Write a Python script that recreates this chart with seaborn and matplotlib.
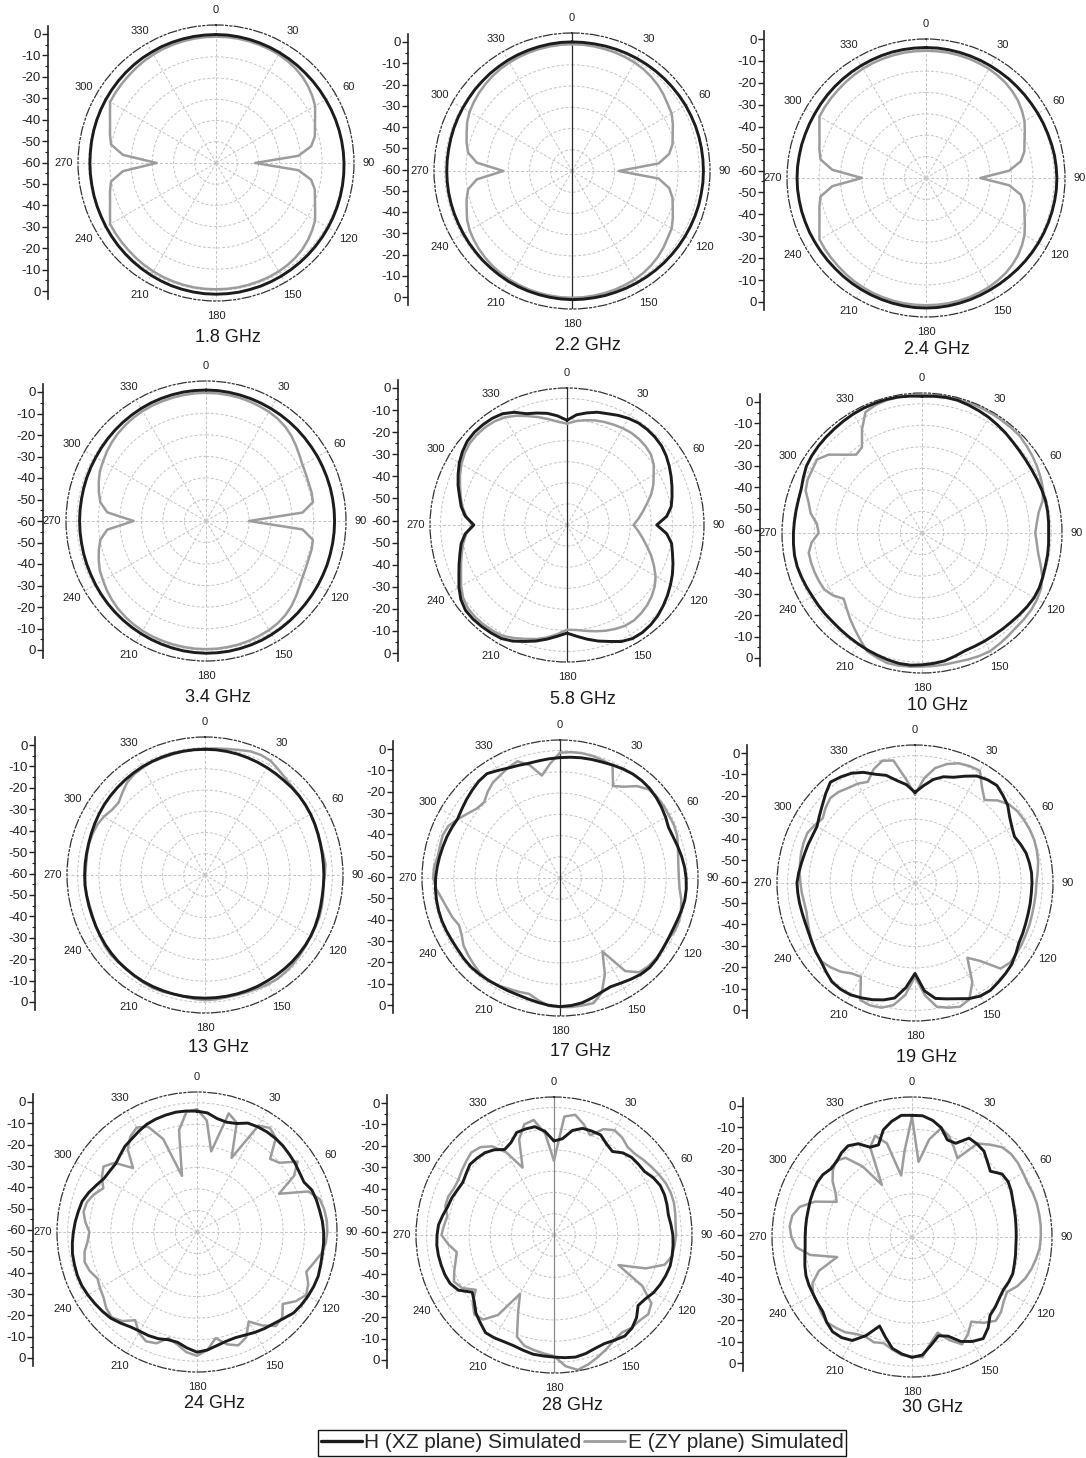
import numpy as np
import pandas as pd
import matplotlib
matplotlib.use("Agg")
import matplotlib.pyplot as plt
from matplotlib.lines import Line2D
from matplotlib.ticker import MultipleLocator
import seaborn as sns

sns.set_theme(style="white")
plt.rcParams["font.family"] = ["Liberation Sans", "DejaVu Sans"]

# Azimuth samples (degrees, clockwise from the top)
ANGLES = list(range(0, 360, 5))

# Normalised gain (dB), one value per 5 degrees
H_1_8 = [0.5, 0.5, 0.4, 0.3, 0.2, 0.1, 0.0, -0.1, -0.2, -0.3, -0.3, -0.3,
         -0.3, -0.2, -0.1, 0.0, 0.1, 0.2, 0.3, 0.4, 0.5, 0.6, 0.7, 0.8,
         0.9, 1.0, 1.1, 1.2, 1.3, 1.4, 1.5, 1.6, 1.7, 1.7, 1.8, 1.8,
         1.8, 1.8, 1.7, 1.6, 1.5, 1.3, 1.1, 0.9, 0.7, 0.5, 0.3, 0.1,
         -0.1, -0.3, -0.4, -0.5, -0.6, -0.6, -0.6, -0.6, -0.5, -0.4, -0.3, -0.2,
         -0.1, 0.0, 0.1, 0.2, 0.3, 0.4, 0.4, 0.5, 0.5, 0.5, 0.5, 0.5]
E_1_8 = [-0.5, -0.5, -0.5, -0.6, -0.7, -0.8, -1.0, -1.3, -1.8, -2.5, -3.5, -4.7,
         -6.1, -8.5, -10.4, -11.8, -14.5, -21.0, -41.6, -21.0, -14.5, -11.8, -10.4, -8.5,
         -6.1, -4.7, -3.5, -2.5, -1.8, -1.3, -1.0, -0.8, -0.7, -0.6, -0.5, -0.5,
         -0.5, -0.5, -0.5, -0.6, -0.7, -0.8, -1.0, -1.2, -1.5, -1.8, -2.0, -2.2,
         -2.4, -4.9, -6.9, -8.3, -9.8, -16.0, -32.0, -16.0, -9.8, -8.3, -6.9, -4.9,
         -2.4, -2.2, -2.0, -1.8, -1.5, -1.2, -1.0, -0.8, -0.7, -0.6, -0.5, -0.5]

H_2_2 = [0.8, 0.8, 0.8, 0.9, 1.0, 1.1, 1.2, 1.3, 1.4, 1.5, 1.6, 1.7,
         1.8, 1.8, 1.9, 1.9, 1.9, 1.9, 1.9, 1.9, 1.8, 1.8, 1.7, 1.6,
         1.5, 1.4, 1.3, 1.2, 1.1, 1.0, 0.9, 0.8, 0.7, 0.7, 0.6, 0.6,
         0.6, 0.5, 0.4, 0.3, 0.2, 0.1, 0.0, -0.2, -0.4, -0.5, -0.7, -0.8,
         -0.9, -1.0, -1.0, -1.0, -1.0, -1.0, -1.0, -1.0, -1.0, -0.9, -0.8, -0.7,
         -0.6, -0.5, -0.3, -0.2, 0.0, 0.1, 0.3, 0.4, 0.5, 0.6, 0.7, 0.8]
E_2_2 = [-0.3, -0.3, -0.4, -0.5, -0.6, -0.8, -1.0, -1.4, -2.0, -2.8, -3.8, -5.0,
         -5.8, -7.6, -9.5, -11.0, -13.5, -19.0, -38.0, -19.0, -13.5, -11.0, -9.5, -7.6,
         -5.8, -5.0, -3.8, -2.8, -2.0, -1.4, -1.0, -0.8, -0.6, -0.5, -0.4, -0.3,
         -0.3, -0.3, -0.4, -0.5, -0.6, -0.8, -1.0, -1.3, -1.7, -2.2, -2.8, -3.5,
         -4.3, -5.5, -7.2, -8.6, -10.3, -15.0, -27.7, -15.0, -10.3, -8.6, -7.2, -5.5,
         -4.3, -3.5, -2.8, -2.2, -1.7, -1.3, -1.0, -0.8, -0.6, -0.5, -0.4, -0.3]

H_2_4 = [1.0, 1.0, 0.9, 0.8, 0.7, 0.6, 0.5, 0.4, 0.4, 0.3, 0.3, 0.3,
         0.4, 0.5, 0.6, 0.8, 1.0, 1.1, 1.2, 1.2, 1.1, 1.0, 0.9, 0.8,
         0.7, 0.6, 0.5, 0.4, 0.3, 0.3, 0.3, 0.4, 0.5, 0.6, 0.7, 0.8,
         0.8, 0.8, 0.7, 0.6, 0.5, 0.4, 0.3, 0.2, 0.1, 0.0, 0.0, 0.0,
         0.0, 0.1, 0.1, 0.2, 0.2, 0.3, 0.3, 0.3, 0.2, 0.2, 0.1, 0.1,
         0.1, 0.2, 0.3, 0.4, 0.5, 0.6, 0.7, 0.8, 0.9, 1.0, 1.0, 1.0]
E_2_4 = [-0.5, -0.5, -0.5, -0.6, -0.7, -0.9, -1.1, -1.5, -2.0, -2.8, -3.8, -5.2,
         -6.8, -9.0, -11.0, -12.4, -15.0, -21.0, -34.6, -21.0, -15.0, -12.4, -11.0, -9.0,
         -6.8, -5.2, -3.8, -2.8, -2.0, -1.5, -1.1, -0.9, -0.7, -0.6, -0.5, -0.5,
         -0.5, -0.5, -0.5, -0.6, -0.7, -0.8, -1.0, -1.2, -1.5, -1.8, -2.0, -2.2,
         -2.5, -5.0, -7.0, -8.4, -9.9, -16.0, -30.0, -16.0, -9.9, -8.4, -7.0, -5.0,
         -2.5, -2.2, -2.0, -1.8, -1.5, -1.2, -1.0, -0.8, -0.7, -0.6, -0.5, -0.5]

H_3_4 = [0.8, 0.8, 0.7, 0.6, 0.5, 0.4, 0.3, 0.2, 0.1, 0.0, -0.1, -0.2,
         -0.2, -0.3, -0.3, -0.3, -0.3, -0.3, -0.3, -0.3, -0.3, -0.3, -0.2, -0.2,
         -0.1, 0.0, 0.1, 0.3, 0.5, 0.7, 0.9, 1.1, 1.2, 1.3, 1.4, 1.4,
         1.4, 1.3, 1.2, 1.0, 0.8, 0.6, 0.4, 0.2, 0.0, -0.2, -0.4, -0.6,
         -0.8, -1.0, -1.1, -1.2, -1.3, -1.3, -1.3, -1.3, -1.3, -1.2, -1.1, -1.0,
         -0.9, -0.7, -0.5, -0.3, -0.1, 0.1, 0.3, 0.5, 0.6, 0.7, 0.8, 0.8]
E_3_4 = [-0.5, -0.5, -0.6, -0.7, -0.9, -1.2, -1.5, -2.0, -2.8, -4.0, -5.5, -7.0,
         -8.2, -8.8, -9.2, -9.2, -9.6, -15.0, -40.0, -15.0, -9.6, -9.2, -9.2, -8.8,
         -8.2, -7.0, -5.5, -4.0, -2.8, -2.0, -1.5, -1.2, -0.9, -0.7, -0.6, -0.5,
         -0.5, -0.5, -0.6, -0.7, -0.8, -0.9, -1.1, -1.4, -1.8, -2.3, -3.0, -3.8,
         -4.8, -5.6, -7.0, -8.5, -10.2, -14.0, -26.4, -14.0, -10.2, -8.5, -7.0, -5.6,
         -4.8, -3.8, -3.0, -2.3, -1.8, -1.4, -1.1, -0.9, -0.8, -0.7, -0.6, -0.5]

H_5_8 = [-10.3, -7.5, -6.0, -4.6, -3.8, -2.6, -1.6, -0.9, -0.8, -1.0, -1.5, -2.6,
         -4.0, -5.5, -7.0, -8.4, -9.8, -12.5, -17.4, -12.5, -9.6, -8.2, -6.5, -4.8,
         -3.3, -1.8, -0.4, 0.9, 1.8, 2.3, 2.2, 1.0, -1.2, -3.0, -5.0, -7.0,
         -8.7, -7.0, -5.0, -3.0, -1.2, 0.8, 2.2, 2.6, 2.9, 3.1, 2.9, 1.5,
         -0.8, -3.4, -5.5, -7.4, -9.0, -11.5, -15.8, -11.5, -9.0, -7.2, -5.0, -3.0,
         -1.0, 0.6, 1.8, 2.2, 2.1, 1.8, 1.0, -1.0, -3.8, -5.0, -6.2, -8.0]
E_5_8 = [-11.9, -10.5, -9.5, -8.6, -8.0, -7.5, -7.0, -6.7, -6.8, -7.2, -8.0, -9.8,
         -12.5, -14.8, -17.5, -20.7, -23.5, -26.0, -28.4, -26.0, -23.5, -20.7, -17.5, -14.5,
         -11.5, -9.2, -7.5, -6.2, -5.3, -4.7, -4.8, -5.6, -6.6, -7.8, -9.0, -10.0,
         -10.3, -8.0, -5.8, -4.0, -2.5, -0.8, 0.8, 1.3, 1.6, 1.7, 1.4, 0.2,
         -2.0, -4.5, -6.5, -8.3, -10.0, -12.0, -15.0, -12.0, -9.5, -7.8, -6.0, -4.0,
         -2.2, -0.7, 0.3, 0.6, 0.5, 0.0, -1.0, -2.8, -5.0, -7.0, -9.0, -10.8]

H_10 = [3.5, 3.7, 3.9, 3.8, 3.2, 2.6, 2.0, 1.2, 0.5, -0.3, -0.8, -1.1,
        -1.2, -1.1, -0.9, -0.7, -0.8, -1.0, -1.2, -1.0, -0.8, -0.7, -0.3, 0.1,
        0.1, -0.4, -1.0, -1.5, -1.8, -2.0, -2.0, -2.0, -1.8, -0.8, 0.3, 0.8,
        1.2, 1.6, 1.5, 1.0, 0.4, -0.1, -0.6, -1.0, -1.3, -1.5, -1.4, -1.3,
        -1.2, -0.8, -0.4, 0.0, 0.1, -0.1, -0.3, -0.5, -0.6, -0.6, -0.3, 0.8,
        2.0, 2.5, 2.8, 3.0, 3.2, 3.5, 3.8, 4.0, 4.1, 4.2, 4.1, 3.8]
E_10 = [4.0, 4.2, 4.3, 4.3, 4.3, 4.2, 4.2, 4.1, 4.0, 4.0, 3.2, 2.5,
        1.7, 0.8, -0.2, -2.0, -5.0, -6.5, -7.4, -6.5, -5.2, -3.0, -0.5, 1.0,
        1.7, 2.0, 2.0, 1.9, 2.3, 2.8, 3.3, 3.0, 2.5, 2.0, 2.0, 2.0,
        2.0, 2.3, 2.5, 2.5, 1.5, 0.5, -2.7, -5.5, -8.0, -10.5, -12.5, -9.5,
        -7.6, -7.2, -6.9, -6.7, -6.6, -8.5, -12.0, -11.0, -7.5, -5.5, -2.5, -1.4,
        -1.2, -0.5, -3.4, -8.6, -12.5, -11.4, -4.3, 2.0, 3.2, 3.8, 4.0, 4.0]

H_13 = [-0.8, -0.8, -0.9, -1.0, -1.2, -1.4, -1.6, -1.8, -2.0, -2.0, -2.1, -2.3,
        -2.6, -3.0, -3.4, -3.7, -3.9, -4.0, -4.0, -4.0, -3.9, -3.6, -3.2, -2.8,
        -2.5, -2.3, -2.2, -2.1, -2.1, -2.1, -2.1, -2.0, -2.0, -2.0, -2.0, -2.0,
        -2.0, -2.0, -2.0, -2.0, -2.0, -2.0, -2.0, -2.1, -2.2, -2.3, -2.5, -2.7,
        -3.0, -3.2, -3.4, -3.4, -3.4, -3.3, -3.3, -3.3, -3.3, -3.2, -3.0, -2.7,
        -2.4, -2.1, -1.9, -1.7, -1.5, -1.3, -1.1, -1.0, -0.9, -0.8, -0.8, -0.8]
E_13 = [-0.5, -0.2, 0.3, 1.0, 2.0, 2.4, 2.0, 0.5, -0.8, -1.6, -2.0, -2.4,
        -2.6, -2.9, -3.2, -3.6, -3.4, -3.0, -3.6, -4.0, -3.5, -3.0, -2.6, -2.5,
        -2.4, -2.0, -1.5, -1.0, -0.6, -0.4, -0.6, -1.0, -1.3, -1.5, -1.5, -1.2,
        -1.0, -1.4, -1.8, -2.0, -1.5, -1.3, -1.6, -2.0, -2.4, -2.0, -1.8, -2.2,
        -2.8, -3.2, -3.6, -3.8, -3.5, -3.2, -3.6, -3.8, -3.6, -3.4, -3.6, -4.0,
        -5.0, -6.5, -6.9, -5.0, -3.0, -2.0, -1.5, -1.2, -1.3, -1.2, -0.9, -0.7]

H_17 = [-3.3, -2.9, -2.5, -2.2, -1.9, -1.3, -0.7, -0.2, -0.1, -0.3, -0.9, -1.7,
        -2.6, -3.6, -3.3, -2.6, -1.8, -1.1, -0.6, -0.3, -0.3, -0.8, -1.3, -1.6,
        -1.5, -1.2, -0.6, -0.3, -0.8, -1.8, -2.8, -3.5, -2.8, -1.5, -0.3, 0.3,
        0.6, 0.2, -0.5, -1.1, -1.5, -1.5, -1.5, -1.2, -0.9, -0.7, -0.9, -1.2,
        -1.2, -1.0, -0.8, -0.8, -0.9, -1.1, -1.4, -1.9, -2.4, -2.9, -3.3, -3.8,
        -4.3, -3.5, -2.5, -1.5, -0.5, 0.0, -1.5, -2.8, -3.5, -4.0, -3.9, -3.6]
E_17 = [-1.0, -0.5, -0.3, -0.5, -1.0, -1.5, -10.0, -7.5, -3.5, -1.0, -0.5, -0.5,
        -0.8, -0.8, -1.3, -2.5, -3.5, -4.0, -4.0, -3.5, -2.0, -1.0, -0.3, -0.5,
        -1.5, -1.0, -1.0, -1.2, -2.0, -6.5, -20.0, -10.0, -2.5, 1.0, 1.0, 1.0,
        0.8, 0.5, -1.5, -3.5, -3.0, -2.5, -1.5, -1.0, -1.5, -2.5, -3.5, -4.5,
        -6.5, -7.5, -6.0, -5.0, -3.5, -1.5, -0.3, -0.5, -1.5, -1.5, -1.2, -2.0,
        -4.5, -7.0, -9.0, -9.5, -7.0, -5.0, -4.0, -2.5, -1.5, -5.0, -11.0, -6.0]

H_19 = [-17.3, -14.0, -10.5, -8.2, -7.0, -4.5, -1.8, -0.6, 0.0, -1.5, -3.0, -5.6,
        -7.3, -8.3, -7.0, -5.8, -5.3, -4.9, -4.9, -5.0, -4.9, -4.8, -4.5, -4.0,
        -3.5, -2.0, -0.5, 0.3, 1.0, 1.8, 1.5, 0.1, -2.0, -3.5, -4.8, -9.0,
        -17.4, -10.5, -5.0, -3.0, -1.5, -0.3, 0.8, 1.1, 0.8, -0.8, -2.3, -3.1,
        -4.0, -4.7, -5.0, -5.0, -4.8, -4.6, -4.4, -5.0, -5.7, -6.2, -6.5, -6.8,
        -6.7, -5.0, -3.0, -0.5, 2.0, 1.0, -0.3, -2.5, -5.5, -7.5, -11.0, -13.5]
E_19 = [-18.3, -10.5, -5.0, -2.0, 0.0, 0.8, 1.1, -5.0, -9.0, -5.0, -2.3, -1.1,
        -0.7, -0.4, -0.3, -0.6, -1.1, -2.0, -2.8, -2.9, -3.0, -2.9, -2.6, -2.4,
        -2.0, -1.8, -1.6, -3.0, -12.0, -17.0, -6.0, 0.5, 2.0, 0.8, -0.8, -7.0,
        -15.8, -7.0, -1.6, 0.8, 1.4, 0.9, -9.0, -8.0, -5.5, -3.8, -2.5, -3.0,
        -4.0, -5.2, -6.2, -7.1, -7.0, -6.5, -6.0, -5.5, -5.0, -4.5, -4.2, -4.1,
        -5.5, -6.9, -5.0, -3.5, -4.0, -5.3, -6.0, -7.4, -3.0, -0.4, -1.4, -10.8]

H_24 = [-3.9, -4.5, -6.5, -7.2, -6.4, -4.2, -3.6, -3.3, -3.3, -3.5, -4.0, -4.4,
        -5.0, -5.2, -3.2, -2.6, -2.2, -1.6, -1.2, -1.0, -0.9, -0.6, -0.1, -0.2,
        -0.5, -0.9, -1.5, -3.2, -4.5, -5.3, -6.2, -7.2, -7.8, -7.5, -6.5, -5.0,
        -4.2, -6.0, -8.0, -8.2, -7.3, -6.9, -6.8, -6.2, -4.8, -3.4, -2.7, -2.1,
        -1.5, -1.0, -0.9, -1.1, -1.3, -1.9, -2.6, -3.3, -4.1, -4.8, -6.5, -8.5,
        -10.2, -10.6, -10.7, -9.5, -8.0, -7.2, -6.0, -4.8, -4.2, -3.8, -3.5, -3.6]
E_24 = [-3.0, -8.0, -22.0, -3.0, -6.0, -22.0, -3.0, -1.0, -3.0, -12.0, -10.0, -3.0,
        -8.0, -18.0, -5.0, -1.0, 0.0, 0.5, 0.5, 0.0, -1.5, -4.0, -6.0, -3.0,
        -1.5, -4.0, -8.0, -4.0, -3.0, -7.0, -12.0, -6.0, -4.0, -6.0, -10.0, -5.0,
        -2.5, -4.0, -7.0, -9.0, -5.0, -4.0, -6.0, -10.0, -6.0, -4.0, -5.0, -7.0,
        -8.0, -9.0, -7.0, -6.0, -7.0, -9.0, -10.0, -8.0, -6.5, -7.0, -9.0, -12.0,
        -9.0, -7.0, -10.0, -18.0, -10.0, -6.0, -4.0, -6.0, -14.0, -33.0, -12.0, -4.0]

H_28 = [-15.7, -14.5, -10.0, -8.0, -7.9, -8.0, -10.5, -12.0, -9.5, -8.3, -8.1, -7.9,
        -6.0, -4.8, -4.6, -4.9, -5.3, -4.7, -4.0, -3.7, -3.5, -3.4, -4.0, -4.8,
        -5.8, -7.5, -8.3, -5.0, -2.8, -1.9, -2.8, -3.6, -3.2, -2.2, -1.6, -2.0,
        -2.5, -2.8, -3.0, -3.8, -4.5, -4.5, -4.0, -3.8, -6.0, -8.0, -11.0, -13.0,
        -8.0, -6.0, -5.3, -5.0, -4.7, -4.6, -4.9, -5.4, -6.8, -8.2, -8.8, -9.8,
        -10.4, -9.5, -8.3, -8.8, -9.4, -11.0, -13.5, -12.0, -8.6, -8.3, -8.2, -11.0]
E_28 = [-25.0, -4.0, -2.5, -6.0, -10.0, -5.0, -3.0, -4.0, -6.0, -6.0, -5.0, -4.0,
        -3.0, -2.0, -1.5, -1.5, -2.0, -2.5, -2.5, -3.0, -3.5, -6.0, -14.0, -26.5,
        -12.0, -4.0, -2.0, -3.0, -3.0, -4.0, -3.0, -1.0, 1.0, 3.0, 4.5, 2.0,
        -3.0, -4.0, -5.0, -6.0, -9.0, -20.0, -28.0, -14.0, -8.0, -7.0, -10.0, -15.0,
        -10.0, -8.0, -10.0, -12.0, -13.5, -10.0, -7.0, -8.0, -9.0, -7.0, -7.0, -8.0,
        -8.0, -7.0, -6.0, -5.0, -6.0, -9.0, -15.0, -25.0, -12.0, -6.0, -5.0, -12.0]

H_30 = [-3.5, -3.5, -5.0, -7.5, -12.0, -12.0, -7.0, -7.3, -8.0, -10.5, -12.5, -9.0,
        -8.5, -9.2, -10.2, -10.8, -11.2, -11.5, -11.6, -11.6, -11.2, -10.8, -10.2, -10.5,
        -11.0, -10.5, -9.5, -8.7, -5.0, -2.4, -4.0, -6.5, -11.0, -12.5, -9.0, -5.0,
        -4.1, -5.5, -7.5, -12.0, -16.0, -9.5, -4.5, -3.0, -2.6, -4.0, -6.0, -6.5,
        -7.0, -7.2, -7.6, -8.5, -9.5, -10.2, -10.4, -10.4, -10.3, -10.2, -9.8, -9.5,
        -9.2, -9.5, -10.8, -10.5, -9.0, -8.3, -10.0, -14.0, -14.5, -8.5, -5.5, -3.3]
E_30 = [-4.2, -25.0, -14.0, -7.6, -10.0, -14.0, -17.8, -7.0, -4.0, -1.0, 0.0, 0.0,
        -0.5, -0.8, -0.3, 0.0, 0.0, 0.0, -0.2, -0.5, -1.5, -2.6, -4.0, -6.0,
        -9.0, -8.0, -6.0, -5.0, -8.0, -12.0, -8.0, -5.0, -9.0, -14.0, -10.0, -4.0,
        -4.5, -5.0, -7.0, -9.0, -8.0, -9.0, -8.0, -6.0, -5.0, -4.0, -5.0, -6.5,
        -7.0, -9.0, -14.0, -24.0, -12.0, -6.0, -4.0, -3.0, -3.5, -6.0, -12.0, -21.4,
        -19.0, -15.0, -12.0, -10.0, -12.0, -20.0, -32.0, -14.0, -10.0, -15.0, -31.0, -20.0]

FREQUENCIES = ["1.8 GHz", "2.2 GHz", "2.4 GHz", "3.4 GHz", "5.8 GHz", "10 GHz",
               "13 GHz", "17 GHz", "19 GHz", "24 GHz", "28 GHz", "30 GHz"]
H_SERIES = [H_1_8, H_2_2, H_2_4, H_3_4, H_5_8, H_10, H_13, H_17, H_19, H_24, H_28, H_30]
E_SERIES = [E_1_8, E_2_2, E_2_4, E_3_4, E_5_8, E_10, E_13, E_17, E_19, E_24, E_28, E_30]

ANGLE_TICKS = list(range(0, 360, 30))
RING_LEVELS = [-50, -40, -30, -20, -10, 0]
SCALE_TICKS = list(range(0, 130, 10))
SCALE_LABELS = ["0", "-10", "-20", "-30", "-40", "-50", "-60",
                "-50", "-40", "-30", "-20", "-10", "0"]
H_LABEL = "H (XZ plane) Simulated"
E_LABEL = "E (ZY plane) Simulated"

H_COLOR = "#1c1c1c"
E_COLOR = "#9c9c9c"
R_MIN, R_MAX = -60, 5

# Panel geometry in pixels:
# centre x, centre y, radius, scale x, scale top, scale bottom, caption x, caption y
LAYOUT = [
    (216, 163, 138, 48, 34, 291, 228, 338),
    (572, 171, 138, 408, 42, 297, 588, 345),
    (926, 178, 139, 764, 39, 302, 937, 350),
    (206, 521, 140, 43, 392, 650, 218, 697),
    (567, 525, 137, 398, 388, 653, 583, 700),
    (922, 533, 140, 760, 402, 658, 938, 705),
    (205, 875, 138, 35, 745, 1002, 219, 1048),
    (560, 878, 138, 393, 749, 1005, 580, 1052),
    (915, 883, 138, 747, 753, 1010, 927, 1058),
    (197, 1232, 140, 33, 1102, 1358, 215, 1403),
    (554, 1235, 138, 387, 1103, 1360, 573, 1405),
    (912, 1237, 140, 743, 1106, 1363, 933, 1408),
]
# colour of the drawn 0-180 axis line (None: plain grid spoke)
AXIS_LINE = [None, "#2a2a2a", None, None, "#2a2a2a", None,
             None, "#2a2a2a", None, None, "#8a8a8a", None]

W, H = 1086, 1458
fig = plt.figure(figsize=(W / 100, H / 100), dpi=100)
fig.patch.set_facecolor("white")


def pattern_frame(values, plane):
    # close the loop by repeating the first sample at 360 degrees
    ang = ANGLES + [360]
    lev = list(values) + [values[0]]
    return pd.DataFrame({"theta": np.deg2rad(ang), "level": lev, "plane": plane})


for freq, h_vals, e_vals, geo, axis_col in zip(FREQUENCIES, H_SERIES, E_SERIES,
                                              LAYOUT, AXIS_LINE):
    cx, cy, rad, sx, st, sb, tx, ty = geo
    assert len(h_vals) == len(ANGLES) and len(e_vals) == len(ANGLES)

    ax = fig.add_axes([(cx - rad) / W, 1 - (cy + rad) / H, 2 * rad / W, 2 * rad / H],
                      projection="polar")
    ax.set_theta_zero_location("N")
    ax.set_theta_direction(-1)

    if axis_col is not None:
        ax.plot([0, 0], [R_MIN, R_MAX], color=axis_col, lw=0.9, zorder=1)
        ax.plot([np.pi, np.pi], [R_MIN, R_MAX], color=axis_col, lw=0.9, zorder=1)

    sns.lineplot(data=pattern_frame(e_vals, E_LABEL), x="theta", y="level",
                 color=E_COLOR, lw=1.8, sort=False, estimator=None, ax=ax, legend=False)
    sns.lineplot(data=pattern_frame(h_vals, H_LABEL), x="theta", y="level",
                 color=H_COLOR, lw=2.1, sort=False, estimator=None, ax=ax, legend=False)

    ax.set_ylim(R_MIN, R_MAX)
    ax.set_xlabel("")
    ax.set_ylabel("")
    ax.set_xticks(np.deg2rad(ANGLE_TICKS))
    ax.set_xticklabels([str(a) for a in ANGLE_TICKS], fontsize=8, color="#222222")
    ax.set_yticks(RING_LEVELS)
    ax.set_yticklabels([])
    ax.tick_params(axis="x", length=2.5, width=0.8, pad=1, colors="#333333",
                   labelcolor="#222222")
    ax.grid(True, color="#c4c4c4", lw=0.7, ls=(0, (3, 2)))
    ax.spines["polar"].set_linestyle((0, (7, 2, 1.5, 2, 1.5, 2)))
    ax.spines["polar"].set_color("#333333")
    ax.spines["polar"].set_linewidth(0.9)
    ax.set_facecolor("none")

    # dB scale drawn beside each polar plot
    ext = 8
    u = 120.0 / (sb - st)
    ax_s = fig.add_axes([sx / W, 1 - (sb + ext) / H, 1.0 / W, (sb - st + 2 * ext) / H])
    ax_s.set_ylim(120 + ext * u, -ext * u)
    ax_s.set_yticks(SCALE_TICKS)
    ax_s.set_yticklabels(SCALE_LABELS)
    ax_s.yaxis.set_minor_locator(MultipleLocator(5))
    ax_s.tick_params(axis="y", which="major", left=True, direction="out", length=4,
                     width=1.0, labelsize=9.5, pad=1, colors="#222222")
    ax_s.tick_params(axis="y", which="minor", left=True, direction="out", length=2,
                     width=0.8, colors="#222222")
    ax_s.set_xticks([])
    for side in ("top", "right", "bottom"):
        ax_s.spines[side].set_visible(False)
    ax_s.spines["left"].set_linewidth(1.2)
    ax_s.spines["left"].set_color("#222222")
    ax_s.patch.set_alpha(0)

    fig.text(tx / W, 1 - ty / H, freq, ha="center", va="center", fontsize=13,
             color="#1a1a1a")

handles = [Line2D([], [], color=H_COLOR, lw=2.4), Line2D([], [], color=E_COLOR, lw=2.0)]
leg = fig.legend(handles, [H_LABEL, E_LABEL], loc="center",
                 bbox_to_anchor=(582 / W, 1 - 1443 / H), ncol=2, frameon=True,
                 fancybox=False, edgecolor="#111111", framealpha=1, fontsize=15,
                 handlelength=2.0, handletextpad=0.1, columnspacing=0.1,
                 borderpad=0.15, borderaxespad=0)
leg.get_frame().set_linewidth(1.0)

fig.savefig("out.png", dpi=100, facecolor="white")
